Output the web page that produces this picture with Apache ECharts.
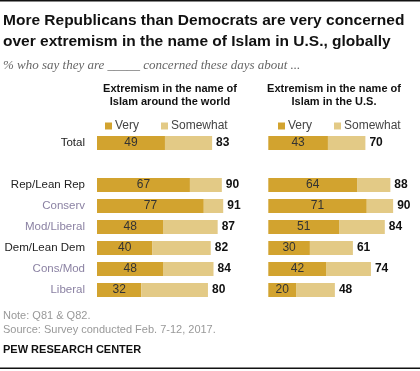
<!DOCTYPE html>
<html><head><meta charset="utf-8">
<script src="https://cdn.jsdelivr.net/npm/echarts@6/dist/echarts.min.js"></script>
<style>html,body{margin:0;padding:0;background:#fff}#c{width:420px;height:371px}</style>
</head><body><div id="c"></div>
<script>
const categories = ['Total', '', 'Rep/Lean Rep', 'Conserv', 'Mod/Liberal', 'Dem/Lean Dem', 'Cons/Mod', 'Liberal'];
const subgroup = [false, false, false, true, true, false, true, true];
const worldVery = [49, null, 67, 77, 48, 40, 48, 32];
const worldTotal = [83, null, 90, 91, 87, 82, 84, 80];
const usVery = [43, null, 64, 71, 51, 30, 42, 20];
const usTotal = [70, null, 88, 90, 84, 61, 74, 48];

const VERY = '#D2A32F', SOME = '#E3CA86';
const FONT = '"Liberation Sans", Arial, sans-serif';
const chart = echarts.init(document.getElementById('c'), null, {renderer: 'canvas'});

function diff(t, v) { return t.map((x, i) => x == null ? null : x - v[i]); }

function grid(left) { return {left: left, top: 132.5, width: 138.7, height: 168, containLabel: false}; }
function yAxis(idx, show) {
  return {type: 'category', gridIndex: idx, data: categories, inverse: true,
    axisLine: {show: false}, axisTick: {show: false}, splitLine: {show: false},
    axisLabel: {show: show, margin: 12, fontSize: 11.5, fontFamily: FONT,
      color: (v, i) => subgroup[i] ? '#8B82A3' : '#222'}};
}
function xAxis(idx) { return {type: 'value', gridIndex: idx, min: 0, max: 100, show: false}; }
function series(idx, very, total) {
  return [
    {name: 'Very', type: 'bar', stack: 's' + idx, xAxisIndex: idx, yAxisIndex: idx, data: very,
      barWidth: 14, itemStyle: {color: VERY}, silent: true,
      label: {show: true, position: 'inside', color: '#333', fontSize: 12, fontFamily: FONT}},
    {name: 'Somewhat', type: 'bar', stack: 's' + idx, xAxisIndex: idx, yAxisIndex: idx, data: diff(total, very),
      barWidth: 14, itemStyle: {color: SOME}, silent: true,
      label: {show: true, position: 'right', distance: 4, color: '#111', fontWeight: 'bold', fontSize: 12, fontFamily: FONT,
        formatter: p => total[p.dataIndex]}}
  ];
}
function legend(left) {
  return {left: left, top: 115, icon: 'rect', itemWidth: 7, itemHeight: 7, itemGap: 22, selectedMode: false,
    data: ['Very', 'Somewhat'], textStyle: {fontSize: 12, fontFamily: FONT, color: '#444', padding: [0, 0, 0, -2]}};
}

chart.setOption({
  animation: false,
  grid: [grid(97), grid(268.3)],
  xAxis: [xAxis(0), xAxis(1)],
  yAxis: [yAxis(0, true), yAxis(1, false)],
  legend: [legend(100), legend(273)],
  series: [...series(0, worldVery, worldTotal), ...series(1, usVery, usTotal)],
  graphic: [
    {type: 'rect', shape: {x: 0, y: 0, width: 420, height: 1.5}, style: {fill: '#111'}},
    {type: 'text', left: 3, top: 10, style: {text: 'More Republicans than Democrats are very concerned\nover extremism in the name of Islam in U.S., globally',
      font: 'bold 15.5px ' + FONT, fill: '#111', lineHeight: 21}},
    {type: 'text', left: 3, top: 59, style: {text: '% who say they are _____ concerned these days about ...',
      font: 'italic 13px "Liberation Serif", Georgia, serif', fill: '#666'}},
    {type: 'text', x: 170, y: 83, style: {text: 'Extremism in the name of\nIslam around the world', align: 'center',
      font: 'bold 11px ' + FONT, fill: '#111', lineHeight: 12.5}},
    {type: 'text', x: 334, y: 83, style: {text: 'Extremism in the name of\nIslam in the U.S.', align: 'center',
      font: 'bold 11px ' + FONT, fill: '#111', lineHeight: 12.5}},
    {type: 'text', left: 3, top: 309, style: {text: 'Note: Q81 & Q82.\nSource: Survey conducted Feb. 7-12, 2017.',
      font: '11px ' + FONT, fill: '#999', lineHeight: 14}},
    {type: 'text', left: 3, top: 344, style: {text: 'PEW RESEARCH CENTER', font: 'bold 11px ' + FONT, fill: '#111'}},
    {type: 'rect', shape: {x: 0, y: 367.5, width: 420, height: 1.5}, style: {fill: '#111'}}
  ]
});
</script></body></html>
